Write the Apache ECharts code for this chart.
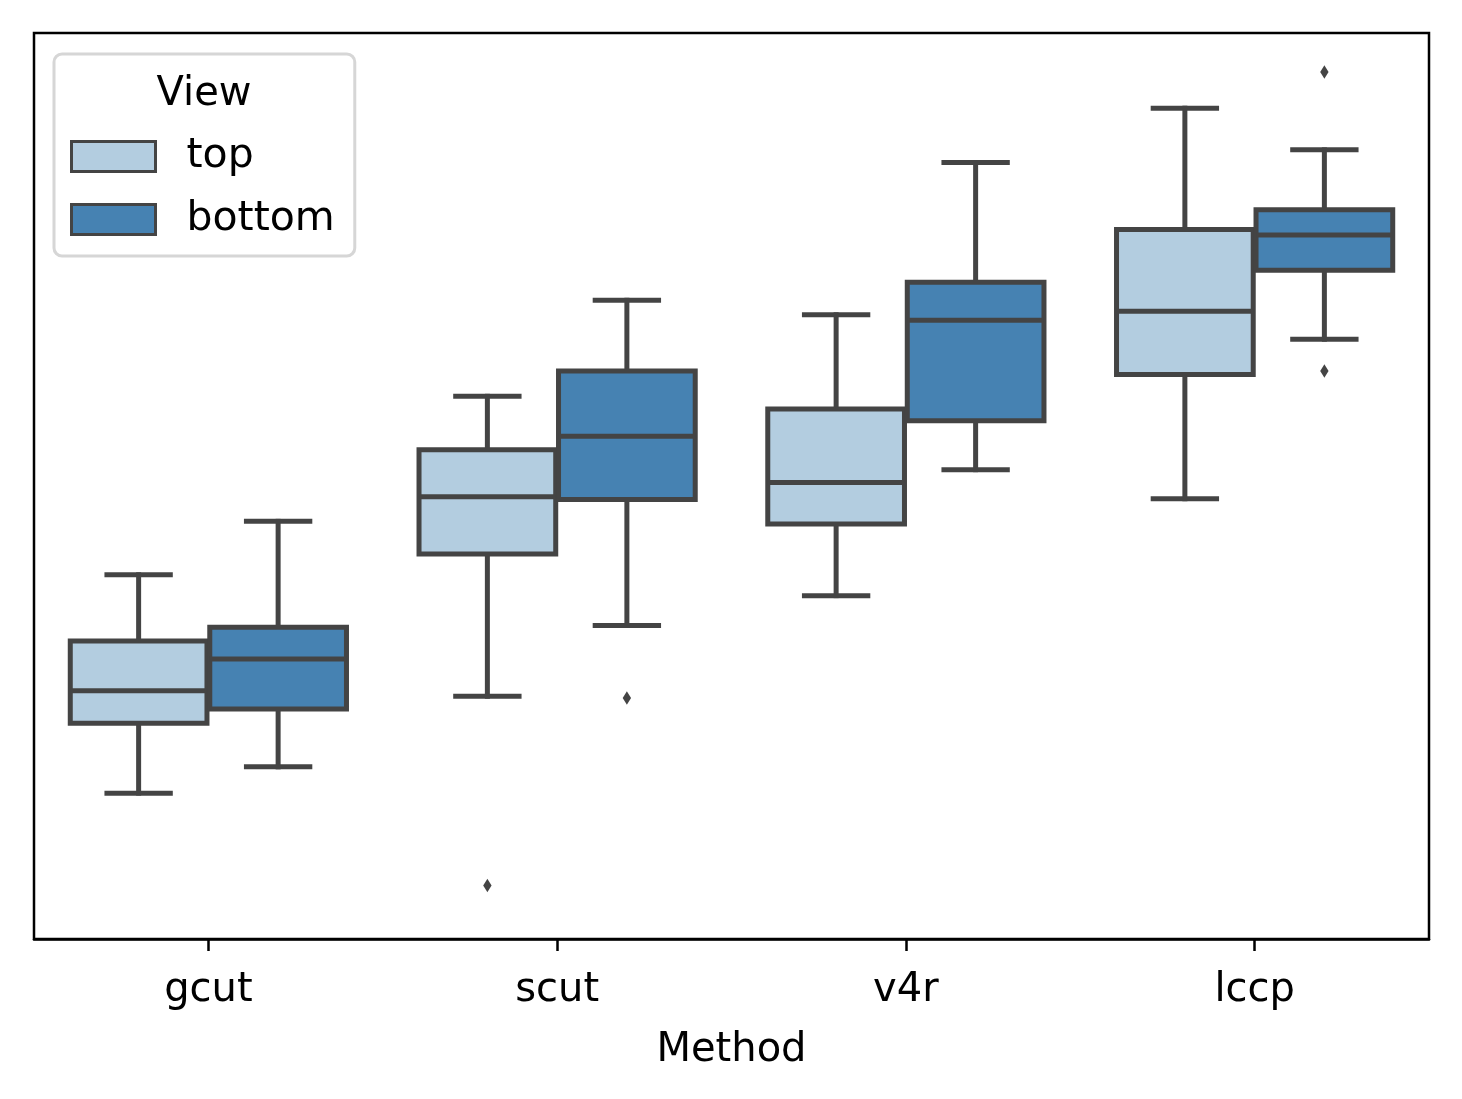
<!DOCTYPE html>
<html>
<head>
<meta charset="utf-8">
<script src="https://cdn.jsdelivr.net/npm/echarts@6/dist/echarts.min.js"></script>
<style>
  html, body { margin: 0; padding: 0; background: #fff; }
  #chart { width: 1462px; height: 1099px; }
</style>
</head>
<body>
<div id="chart"></div>
<script>
// y units are arbitrary (the reference has no y tick labels)
const categories = ['gcut', 'scut', 'v4r', 'lccp'];
// [low whisker, Q1, median, Q3, high whisker]
const topStats = [
  [16.1, 23.8, 27.4, 32.9, 40.2],
  [26.8, 42.5, 48.8, 54.0, 59.9],
  [37.9, 45.8, 50.4, 58.5, 68.9],
  [48.6, 62.3, 69.3, 78.3, 91.7]
];
const bottomStats = [
  [19.0, 25.4, 30.9, 34.4, 46.1],
  [34.6, 48.5, 55.5, 62.7, 70.5],
  [51.8, 57.2, 68.3, 72.5, 85.7],
  [66.2, 73.8, 77.7, 80.5, 87.1]
];
// [category index, value]
const topOutliers = [[1, 5.9]];
const bottomOutliers = [[1, 26.6], [3, 95.7], [3, 62.7]];

const views = ['top', 'bottom'];
const fills = ['#b3cde0', '#4682b2'];
const edge = '#444444';
const lw = 5;
const font = 'DejaVu Sans';

function boxRenderer(hue) {
  return function (params, api) {
    const cat = api.value(0);
    const band = api.size([1, 0])[0];
    const cx = api.coord([cat, 0])[0] + (hue === 0 ? -1 : 1) * band * 0.2;
    const half = band * 0.196;
    const cap = half * 0.5;
    const y = i => api.coord([cat, api.value(i)])[1];
    const lo = y(1), q1 = y(2), med = y(3), q3 = y(4), hi = y(5);
    const ls = { stroke: edge, lineWidth: lw, lineCap: 'square' };
    return {
      type: 'group',
      children: [
        { type: 'line', shape: { x1: cx, y1: q3, x2: cx, y2: hi }, style: ls },
        { type: 'line', shape: { x1: cx, y1: q1, x2: cx, y2: lo }, style: ls },
        { type: 'line', shape: { x1: cx - cap, y1: hi, x2: cx + cap, y2: hi }, style: { stroke: edge, lineWidth: lw } },
        { type: 'line', shape: { x1: cx - cap, y1: lo, x2: cx + cap, y2: lo }, style: { stroke: edge, lineWidth: lw } },
        { type: 'rect', shape: { x: cx - half, y: q3, width: half * 2, height: q1 - q3 },
          style: { fill: fills[hue], stroke: edge, lineWidth: lw } },
        { type: 'line', shape: { x1: cx - half, y1: med, x2: cx + half, y2: med }, style: { stroke: edge, lineWidth: lw } }
      ]
    };
  };
}

function outlierRenderer(hue) {
  return function (params, api) {
    const band = api.size([1, 0])[0];
    const p = api.coord([api.value(0), api.value(1)]);
    const cx = p[0] + (hue === 0 ? -1 : 1) * band * 0.2;
    const w = 4.2, h = 6.8;
    return {
      type: 'polygon',
      shape: { points: [[cx, p[1] - h], [cx + w, p[1]], [cx, p[1] + h], [cx - w, p[1]]] },
      style: { fill: edge }
    };
  };
}

const chart = echarts.init(document.getElementById('chart'), null, { renderer: 'canvas' });

const series = [];
[topStats, bottomStats].forEach((stats, hue) => {
  series.push({
    name: views[hue],
    type: 'custom',
    renderItem: boxRenderer(hue),
    encode: { x: 0, y: [1, 2, 3, 4, 5] },
    itemStyle: { color: fills[hue], borderColor: edge, borderWidth: 3 },
    data: stats.map((s, i) => [i].concat(s)),
    z: 3
  });
});
[topOutliers, bottomOutliers].forEach((pts, hue) => {
  series.push({
    name: views[hue] + ' outliers',
    type: 'custom',
    renderItem: outlierRenderer(hue),
    encode: { x: 0, y: 1 },
    data: pts,
    z: 3
  });
});

chart.setOption({
  animation: false,
  backgroundColor: '#ffffff',
  grid: {
    left: 34, right: 33, top: 33, bottom: 160,
    show: true, borderColor: '#000', borderWidth: 2.5, backgroundColor: 'transparent'
  },
  xAxis: {
    type: 'category',
    data: categories,
    boundaryGap: true,
    name: 'Method',
    nameLocation: 'middle',
    nameGap: 92,
    nameTextStyle: { fontFamily: font, fontSize: 40, color: '#000' },
    axisLine: { show: true, lineStyle: { color: '#000', width: 2.5 } },
    axisTick: { show: true, inside: false, alignWithLabel: true, length: 12, lineStyle: { color: '#000', width: 2.5 } },
    axisLabel: { fontFamily: font, fontSize: 40, color: '#000', margin: 32 },
    splitLine: { show: false }
  },
  yAxis: {
    type: 'value',
    min: 0, max: 100,
    axisLine: { show: false },
    axisTick: { show: false },
    axisLabel: { show: false },
    splitLine: { show: false }
  },
  legend: {
    left: 54, top: 54,
    orient: 'vertical',
    padding: [82, 20, 16, 16],
    itemGap: 22,
    itemWidth: 84, itemHeight: 30,
    backgroundColor: '#fff',
    borderColor: '#d6d6d6', borderWidth: 3, borderRadius: 8,
    textStyle: { fontFamily: font, fontSize: 41, color: '#000', padding: [0, 0, 0, 26] },
    data: views.map((v, i) => ({
      name: v, icon: 'rect',
      itemStyle: { color: fills[i], borderColor: edge, borderWidth: 3 }
    }))
  },
  graphic: [{
    type: 'text', z: 100,
    x: 204, y: 95,
    style: { text: 'View', fontFamily: font, fontSize: 40, fill: '#000', align: 'center', verticalAlign: 'middle' }
  }],
  series: series
});
</script>
</body>
</html>
